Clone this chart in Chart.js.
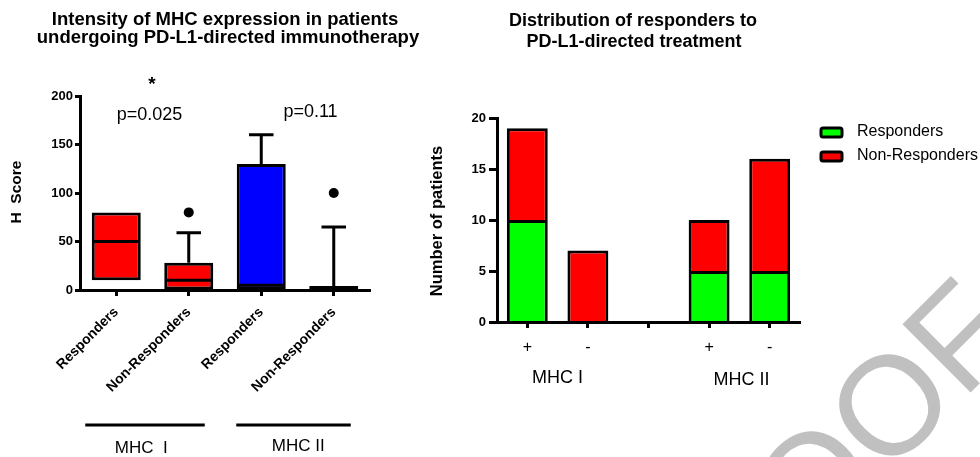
<!DOCTYPE html>
<html><head><meta charset="utf-8">
<script src="https://cdn.jsdelivr.net/npm/chart.js@4"></script>
<style>
html,body{margin:0;padding:0;background:#fff;}
body{width:980px;height:457px;position:relative;overflow:hidden;}
#c1{position:absolute;left:0;top:0;}
#c2{position:absolute;left:420px;top:0;}
</style></head><body>
<canvas id="c1" width="440" height="457"></canvas>
<canvas id="c2" width="560" height="457"></canvas>
<script>
// ---------- data: left panel (box plot) ----------
const boxCategories = ['Responders', 'Non-Responders', 'Responders', 'Non-Responders'];
const boxGroups = ['MHC  I', 'MHC II'];
const boxQ1 = [10, 0, 0, 0];
const boxMedian = [50, 10, 5, 0];
const boxQ3 = [80, 28, 130, 4];
const whiskerLow = [10, 0, 0, 0];
const whiskerHigh = [80, 59, 160, 65];
const outliers = [null, 80, null, 100];
const boxColors = ['#ff0000', '#ff0000', '#0000ff', '#0000ff'];
const hScoreTicks = [0, 50, 100, 150, 200];
const pValues = ['p=0.025', 'p=0.11'];

// ---------- data: right panel (stacked bars) ----------
const barCategories = ['+', '-', '', '+', '-'];
const barGroups = ['MHC I', 'MHC II'];
const responders = [10, 0, null, 5, 5];
const nonResponders = [9, 7, null, 5, 11];
const patientTicks = [0, 5, 10, 15, 20];

Chart.defaults.font.family = "'Liberation Sans', Arial, sans-serif";
Chart.defaults.color = '#000';

const FONT = "'Liberation Sans', Arial, sans-serif";

// generic text / line annotation plugin
const annotPlugin = {
  id: 'annot',
  afterDraw(chart, args, opts) {
    const ctx = chart.ctx;
    const val = v => (typeof v === 'function' ? v(chart) : v);
    (opts.lines || []).forEach(l => {
      ctx.save();
      ctx.strokeStyle = '#000'; ctx.lineWidth = l.width || 3;
      ctx.beginPath(); ctx.moveTo(val(l.x1), val(l.y)); ctx.lineTo(val(l.x2), val(l.y)); ctx.stroke();
      ctx.restore();
    });
    (opts.items || []).forEach(it => {
      ctx.save();
      ctx.font = it.font; ctx.fillStyle = it.color || '#000';
      ctx.textAlign = it.align || 'center'; ctx.textBaseline = it.baseline || 'middle';
      ctx.translate(val(it.x), val(it.y));
      if (it.rotate) ctx.rotate(it.rotate * Math.PI / 180);
      ctx.fillText(it.text, 0, 0);
      ctx.restore();
    });
  }
};

// box-plot extras: whiskers (behind) and medians (on top)
const boxPlugin = {
  id: 'boxExtras',
  beforeDatasetsDraw(chart) {
    const {ctx, scales: {y}} = chart;
    const meta = chart.getDatasetMeta(0);
    ctx.save();
    ctx.strokeStyle = '#000'; ctx.lineWidth = 3;
    meta.data.forEach((bar, i) => {
      const cx = bar.x, cap = bar.width / 4;
      if (whiskerHigh[i] > boxQ3[i]) {
        const y1 = y.getPixelForValue(boxQ3[i]), y2 = y.getPixelForValue(whiskerHigh[i]);
        ctx.beginPath();
        ctx.moveTo(cx, y1); ctx.lineTo(cx, y2);
        ctx.moveTo(cx - cap, y2); ctx.lineTo(cx + cap, y2);
        ctx.stroke();
      }
      if (whiskerLow[i] < boxQ1[i]) {
        const y1 = y.getPixelForValue(boxQ1[i]), y2 = y.getPixelForValue(whiskerLow[i]);
        ctx.beginPath();
        ctx.moveTo(cx, y1); ctx.lineTo(cx, y2);
        ctx.moveTo(cx - cap, y2); ctx.lineTo(cx + cap, y2);
        ctx.stroke();
      }
    });
    ctx.restore();
  },
  afterDatasetsDraw(chart) {
    const {ctx, scales: {y}} = chart;
    const meta = chart.getDatasetMeta(0);
    ctx.save();
    ctx.strokeStyle = '#000'; ctx.lineWidth = 3;
    meta.data.forEach((bar, i) => {
      const half = bar.width / 2;
      const ym = y.getPixelForValue(boxMedian[i]);
      ctx.beginPath(); ctx.moveTo(bar.x - half + 1, ym); ctx.lineTo(bar.x + half - 1, ym); ctx.stroke();
    });
    ctx.restore();
  }
};

// legend drawn from dataset labels/colours
const legendPlugin = {
  id: 'sideLegend',
  afterDraw(chart, args, opts) {
    const ctx = chart.ctx;
    chart.data.datasets.forEach((ds, i) => {
      const yC = opts.y + i * opts.spacing;
      ctx.save();
      ctx.fillStyle = ds.backgroundColor; ctx.strokeStyle = '#000'; ctx.lineWidth = 3;
      ctx.beginPath();
      ctx.roundRect(opts.x, yC - 4.5, 21, 9, 2);
      ctx.fill(); ctx.stroke();
      ctx.fillStyle = '#000'; ctx.font = '16px ' + FONT;
      ctx.textAlign = 'left'; ctx.textBaseline = 'middle';
      ctx.fillText(ds.label, opts.x + 36, yC - 1);
      ctx.restore();
    });
  }
};

const axisCommon = {
  grid: {display: true, drawOnChartArea: false, drawTicks: true, tickColor: '#000', tickWidth: 3, offset: false, z: 1},
  border: {display: true, color: '#000', width: 3, z: 1}
};

// ---------- left chart ----------
new Chart(document.getElementById('c1'), {
  type: 'bar',
  data: {
    labels: boxCategories,
    datasets: [
      {
        label: 'Box',
        data: boxQ1.map((q, i) => [q, boxQ3[i]]),
        backgroundColor: boxColors,
        borderColor: '#000', borderWidth: 3, borderSkipped: false,
        barPercentage: 0.676, categoryPercentage: 1
      },
      {
        type: 'line', label: 'Outliers', data: outliers,
        showLine: false, pointRadius: 5, pointBackgroundColor: '#000', pointBorderWidth: 0
      }
    ]
  },
  options: {
    responsive: false, animation: false, devicePixelRatio: 1,
    layout: {padding: {left: 0, right: 70, top: 96, bottom: 0}},
    plugins: {
      legend: {display: false}, tooltip: {enabled: false},
      annot: {
        lines: [
          {x1: c => c.scales.x.getPixelForValue(0) - 31, x2: c => c.scales.x.getPixelForValue(1) + 16, y: 425},
          {x1: c => c.scales.x.getPixelForValue(2) - 25, x2: c => c.scales.x.getPixelForValue(3) + 17, y: 425}
        ],
        items: [
          {text: 'Intensity of MHC expression in patients', x: 225, y: 20, font: 'bold 18.5px ' + FONT},
          {text: 'undergoing PD-L1-directed immunotherapy', x: 228, y: 38, font: 'bold 18.5px ' + FONT},
          {text: '*', x: 152, y: 85, font: 'bold 19px ' + FONT},
          {text: pValues[0], x: c => (c.scales.x.getPixelForValue(0) + c.scales.x.getPixelForValue(1)) / 2 - 3, y: 115, font: '18px ' + FONT},
          {text: pValues[1], x: c => (c.scales.x.getPixelForValue(2) + c.scales.x.getPixelForValue(3)) / 2 + 13, y: 112, font: '18px ' + FONT},
          {text: 'H  Score', x: 17, y: 192, rotate: -90, font: 'bold 15.5px ' + FONT},
          {text: boxGroups[0], x: c => c.scales.x.getPixelForValue(0) + 25, y: 448, font: '17px ' + FONT},
          {text: boxGroups[1], x: c => c.scales.x.getPixelForValue(2) + 37, y: 446, font: '17px ' + FONT}
        ]
      }
    },
    scales: {
      x: {
        ...axisCommon,
        grid: {...axisCommon.grid, tickLength: 6},
        ticks: {font: {weight: 'bold', size: 14}, color: '#000', maxRotation: 45, minRotation: 45, padding: 8},
        afterFit: s => { s.height = 167; }
      },
      y: {
        ...axisCommon,
        min: 0, max: 200,
        grid: {...axisCommon.grid, tickLength: 5},
        ticks: {font: {weight: 'bold', size: 13}, color: '#000', padding: 2},
        afterBuildTicks: s => { s.ticks = hScoreTicks.map(v => ({value: v})); },
        afterFit: s => { s.width = 80; }
      }
    }
  },
  plugins: [boxPlugin, annotPlugin]
});

// ---------- right chart ----------
new Chart(document.getElementById('c2'), {
  type: 'bar',
  data: {
    labels: barCategories,
    datasets: [
      {label: 'Responders', data: responders, backgroundColor: '#00ff00', borderColor: '#000', borderWidth: 3,
       barPercentage: 0.675, categoryPercentage: 1},
      {label: 'Non-Responders', data: nonResponders, backgroundColor: '#ff0000', borderColor: '#000', borderWidth: 3,
       barPercentage: 0.675, categoryPercentage: 1}
    ]
  },
  options: {
    responsive: false, animation: false, devicePixelRatio: 1,
    layout: {padding: {left: 0, right: 180, top: 118, bottom: 0}},
    plugins: {
      legend: {display: false}, tooltip: {enabled: false},
      sideLegend: {x: 401, y: 132.5, spacing: 24},
      annot: {
        items: [
          {text: 'Distribution of responders to', x: 213, y: 21, font: 'bold 18px ' + FONT},
          {text: 'PD-L1-directed treatment', x: 214, y: 42, font: 'bold 18px ' + FONT},
          {text: 'Number of patients', x: 17, y: 221, rotate: -90, font: 'bold 16.5px ' + FONT},
          {text: barGroups[0], x: c => (c.scales.x.getPixelForValue(0) + c.scales.x.getPixelForValue(1)) / 2, y: 378, font: '18px ' + FONT},
          {text: barGroups[1], x: c => (c.scales.x.getPixelForValue(3) + c.scales.x.getPixelForValue(4)) / 2 + 2, y: 380, font: '18px ' + FONT},
          {text: 'PROOF', x: 603, y: 340, rotate: -45, align: 'right', baseline: 'alphabetic', font: '140px ' + FONT, color: '#c0c0c0'}
        ]
      }
    },
    scales: {
      x: {
        ...axisCommon, stacked: true,
        grid: {...axisCommon.grid, tickLength: 6},
        ticks: {font: {size: 16}, color: '#000', padding: 10, maxRotation: 0, autoSkip: false},
        afterFit: s => { s.height = 135; }
      },
      y: {
        ...axisCommon, stacked: true,
        min: 0, max: 20,
        grid: {...axisCommon.grid, tickLength: 8},
        ticks: {font: {weight: 'bold', size: 13}, color: '#000', padding: 3},
        afterBuildTicks: s => { s.ticks = patientTicks.map(v => ({value: v})); },
        afterFit: s => { s.width = 77; }
      }
    }
  },
  plugins: [legendPlugin, annotPlugin]
});
</script>
</body></html>
